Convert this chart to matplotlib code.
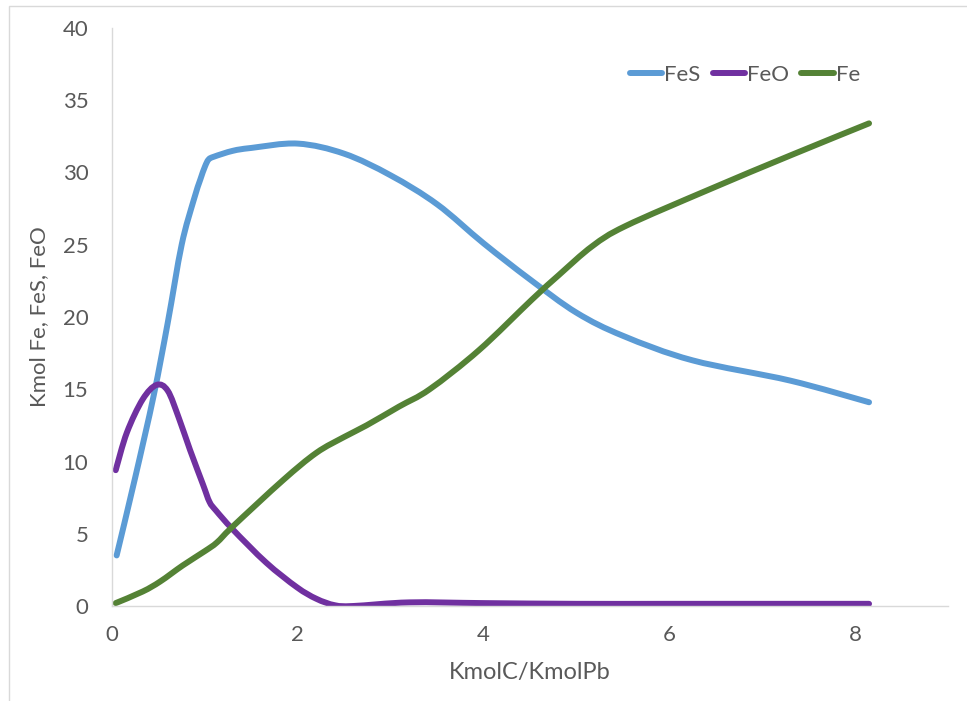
import matplotlib
matplotlib.use("Agg")
import numpy as np
import matplotlib.pyplot as plt
from matplotlib.patches import Rectangle, PathPatch
from matplotlib.path import Path
from matplotlib.lines import Line2D

# Iron species vs carbon / lead ratio
fes_x = [0.05, 0.25, 0.45, 0.6, 0.75, 0.88, 0.95, 1.0, 1.04, 1.1, 1.3, 1.5, 2.0, 2.5, 3.0, 3.5, 4.0, 4.5, 5.0, 5.5, 6.25, 7.3, 8.15]
fes_y = [3.5, 8.9, 14.6, 19.6, 25.0, 28.1, 29.5, 30.4, 30.9, 31.1, 31.5, 31.7, 32.0, 31.3, 29.8, 27.8, 25.1, 22.6, 20.3, 18.7, 17.0, 15.6, 14.1]

feo_x = [0.04, 0.16, 0.33, 0.48, 0.6, 0.72, 0.84, 0.98, 1.05, 1.12, 1.3, 1.66, 1.99, 2.2, 2.4, 2.6, 3.2, 4.0, 5.0, 6.0, 7.0, 8.15]
feo_y = [9.4, 12.0, 14.3, 15.3, 14.9, 13.0, 10.8, 8.4, 7.2, 6.6, 5.3, 3.0, 1.3, 0.5, 0.05, 0.0, 0.25, 0.2, 0.15, 0.15, 0.15, 0.15]

fe_x = [0.04, 0.33, 0.52, 0.76, 1.0, 1.13, 1.3, 1.84, 2.2, 2.5, 2.74, 3.09, 3.42, 3.95, 4.52, 4.81, 5.17, 5.53, 6.42, 7.31, 8.15]
fe_y = [0.2, 1.0, 1.7, 2.8, 3.8, 4.4, 5.5, 8.7, 10.6, 11.7, 12.5, 13.8, 15.0, 17.7, 21.2, 22.9, 24.9, 26.3, 28.8, 31.2, 33.4]

series = [("FeS", fes_x, fes_y, "#5B9BD5"),
          ("FeO", feo_x, feo_y, "#7030A0"),
          ("Fe", fe_x, fe_y, "#548235")]

x_ticks = [0, 2, 4, 6, 8]
y_ticks = [0, 5, 10, 15, 20, 25, 30, 35, 40]

text_color = "#595959"
axis_color = "#D9D9D9"
plt.rcParams["font.family"] = ["Lato", "DejaVu Sans"]


def smooth_path(xs, ys):
    """Smoothed (Catmull-Rom style) cubic Bezier path through the points."""
    p = np.column_stack([xs, ys]).astype(float)
    n = len(p)
    verts = [p[0]]
    codes = [Path.MOVETO]
    for i in range(n - 1):
        p_prev = p[i - 1] if i > 0 else p[i]
        p_next2 = p[i + 2] if i + 2 < n else p[i + 1]
        c1 = p[i] + (p[i + 1] - p_prev) / 6.0
        c2 = p[i + 1] - (p_next2 - p[i]) / 6.0
        verts += [c1, c2, p[i + 1]]
        codes += [Path.CURVE4] * 3
    return Path(verts, codes)


fig = plt.figure(figsize=(9.67, 7.01), dpi=100)
fig.patches.append(Rectangle((9 / 967, -0.05), 1.2, 1 - 6 / 701 + 0.05,
                             transform=fig.transFigure, fill=False,
                             edgecolor=axis_color, linewidth=1.0))

ax = fig.add_axes([112 / 967, 95 / 701, (948 - 112) / 967, (606 - 28) / 701])

lw = 4.3
handles = []
for name, xs, ys, color in series:
    ax.add_patch(PathPatch(smooth_path(xs, ys), facecolor="none", edgecolor=color,
                           lw=lw, capstyle="round", joinstyle="round"))
    handles.append(Line2D([], [], color=color, lw=lw, solid_capstyle="round", label=name))

ax.set_xlim(0, 9)
ax.set_ylim(0, 40)
ax.set_xticks(x_ticks)
ax.set_yticks(y_ticks)
ax.tick_params(length=0, labelsize=16, colors=text_color)
ax.tick_params(axis="x", pad=14)
ax.tick_params(axis="y", pad=17)

for side in ("top", "right"):
    ax.spines[side].set_visible(False)
for side in ("left", "bottom"):
    ax.spines[side].set_color(axis_color)
    ax.spines[side].set_linewidth(1.0)

ax.set_xlabel("KmolC/KmolPb", fontsize=17, color=text_color, labelpad=12)
ax.set_ylabel("Kmol Fe, FeS, FeO", fontsize=16, color=text_color, labelpad=10)

leg = ax.legend(handles=handles, loc="center", bbox_to_anchor=(745 / 967, 1 - 75 / 701),
                bbox_transform=fig.transFigure, ncol=3, frameon=False,
                fontsize=16, handlelength=1.45, handletextpad=0.1,
                columnspacing=0.55)
for t in leg.get_texts():
    t.set_color(text_color)

fig.savefig("out.png", dpi=100)
